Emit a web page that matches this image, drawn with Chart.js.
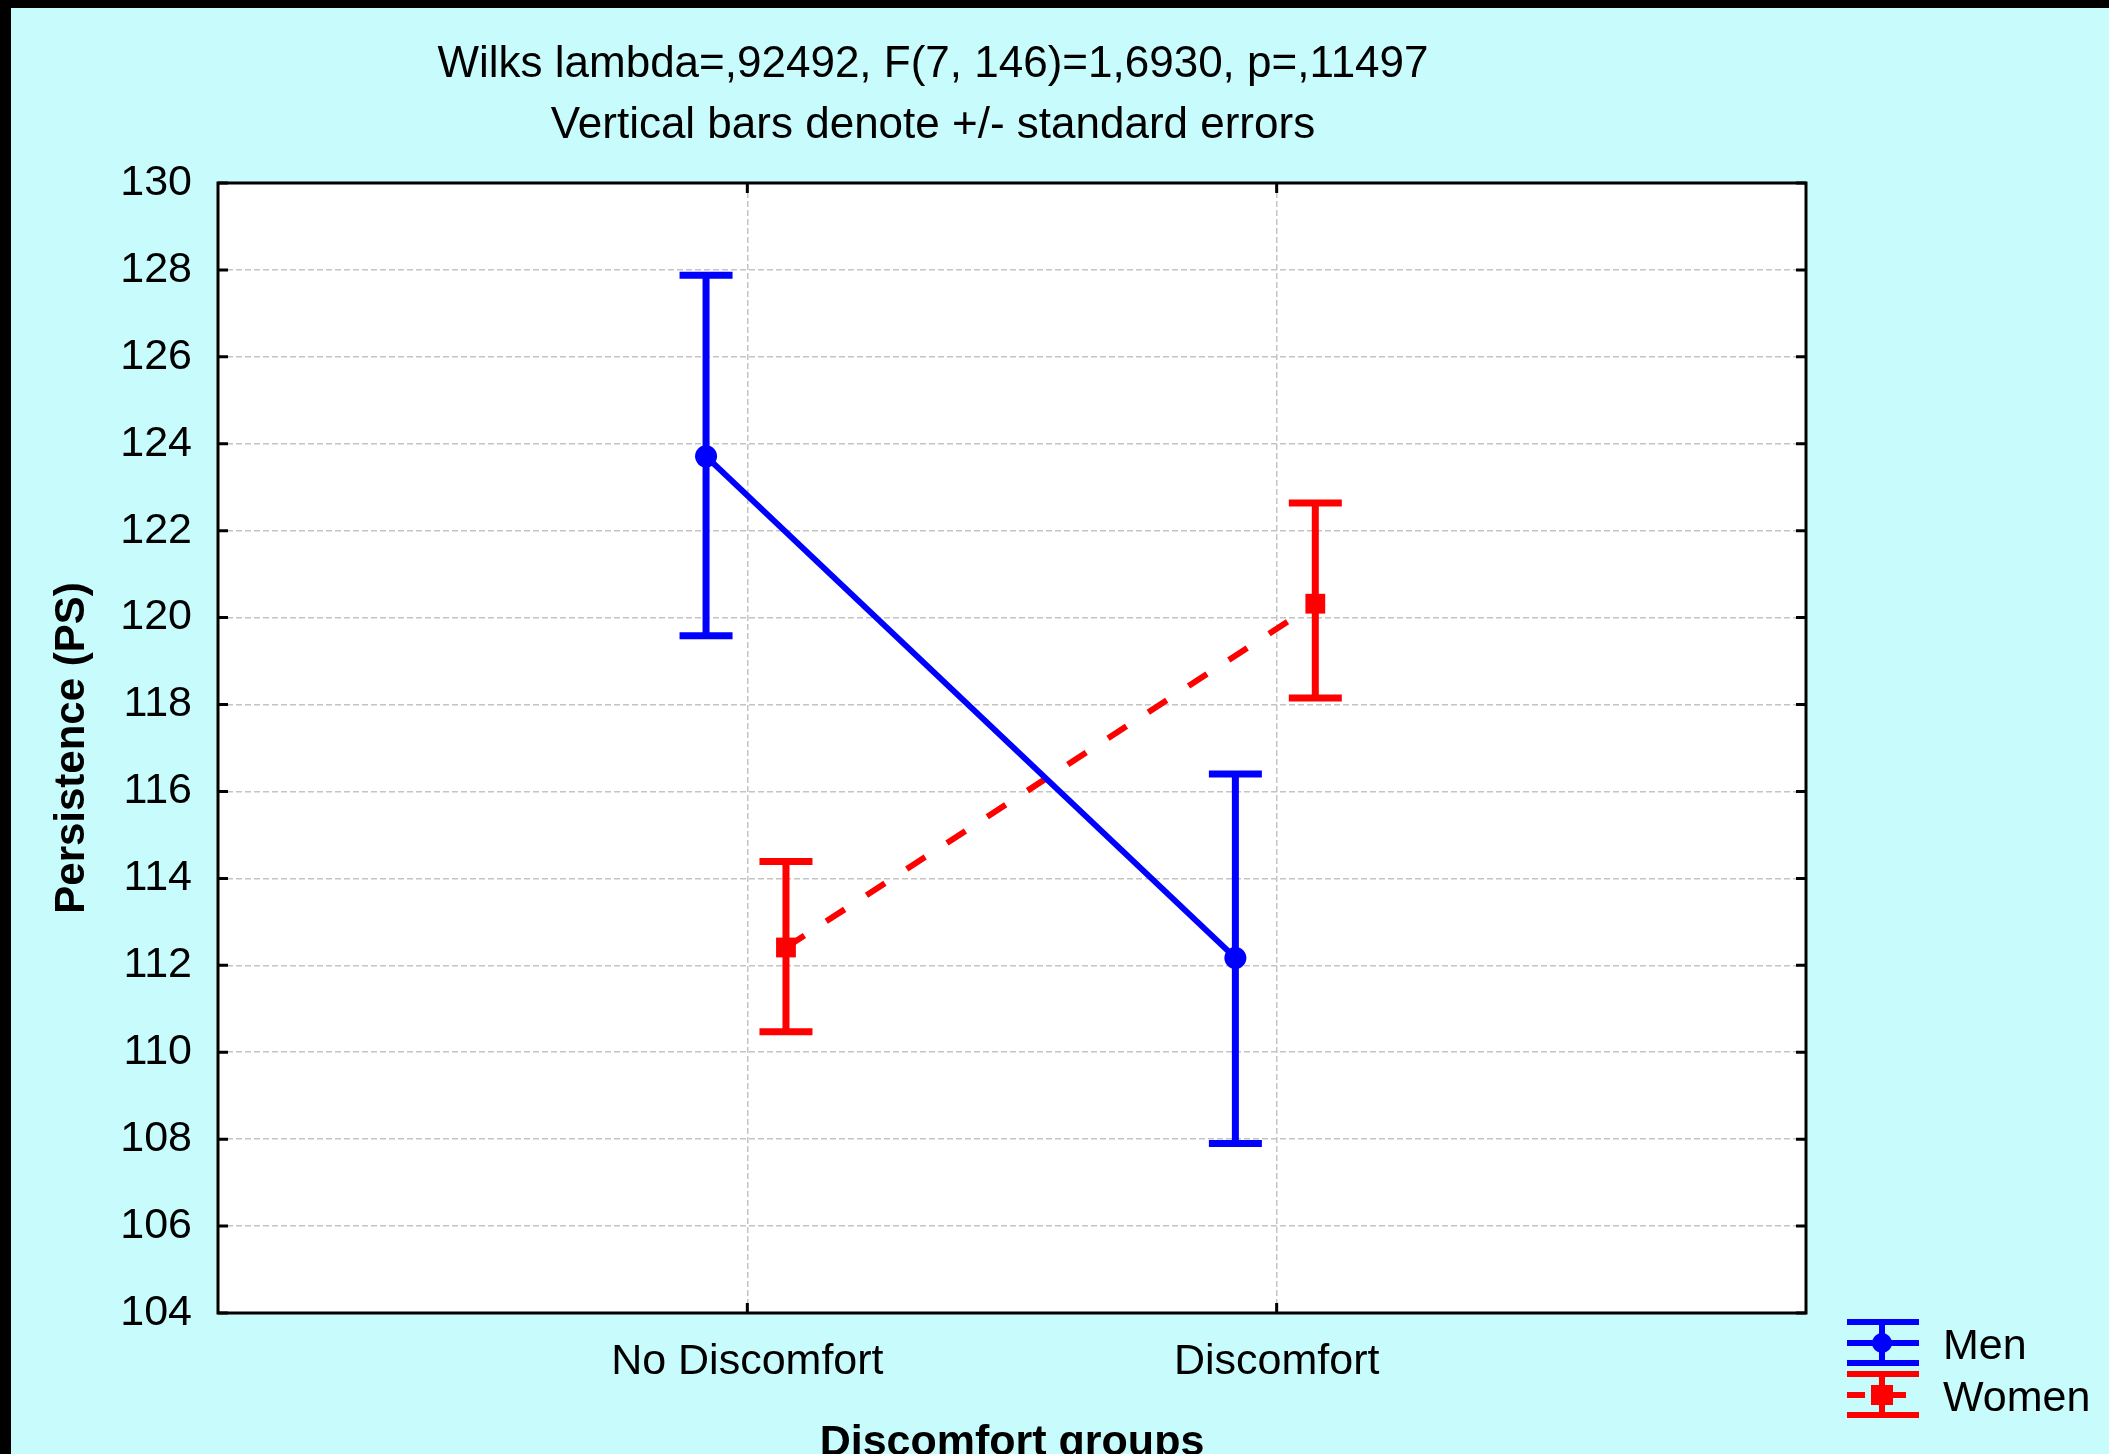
<!DOCTYPE html>
<html>
<head>
<meta charset="utf-8">
<script src="https://cdn.jsdelivr.net/npm/chart.js@4.4.0/dist/chart.umd.min.js"></script>
<style>
html,body{margin:0;padding:0;background:#000;width:2109px;height:1454px;overflow:hidden;}
#wrap{position:absolute;left:11px;top:8px;width:2098px;height:1446px;background:#C8FCFC;}
canvas{display:block;}
</style>
</head>
<body>
<div id="wrap"><canvas id="c" width="2098" height="1446"></canvas></div>
<script>
// ---- data ----
const titleLines = ['Wilks lambda=,92492, F(7, 146)=1,6930, p=,11497', 'Vertical bars denote +/- standard errors'];
const categories = ['No Discomfort', 'Discomfort'];
const seriesNames = ['Men', 'Women'];
const menMean  = [123.71, 112.17];
const menLower = [119.58, 107.90];
const menUpper = [127.88, 116.40];
const womenMean  = [112.41, 120.32];
const womenLower = [110.47, 118.15];
const womenUpper = [114.39, 122.64];
const yMin = 104, yMax = 130, yStep = 2;
const xAxisTitle = 'Discomfort groups';
const yAxisTitle = 'Persistence (PS)';

// ---- style ----
const FONT = '"Liberation Sans", Arial, Helvetica, sans-serif';
const BLUE = '#0000FF', RED = '#FF0000';
const GRID = '#C4C4C4';
const MEN_OFF = -0.078, WOMEN_OFF = 0.073;

Chart.defaults.font.family = FONT;
Chart.defaults.color = '#000';

function toPoints(means, off) { return means.map((v, i) => ({ x: i + 1 + off, y: v })); }

const plotBg = {
  id: 'plotBg',
  beforeDraw(chart) {
    const { ctx, chartArea: a } = chart;
    ctx.save();
    ctx.fillStyle = '#FFFFFF';
    ctx.fillRect(a.left, a.top, a.right - a.left, a.bottom - a.top);
    ctx.restore();
  }
};

const errorBars = {
  id: 'errorBars',
  beforeDatasetsDraw(chart) {
    const { ctx } = chart;
    const xs = chart.scales.x, ys = chart.scales.y;
    chart.data.datasets.forEach((ds) => {
      ds.data.forEach((p, i) => {
        const x = xs.getPixelForValue(p.x);
        const yl = ys.getPixelForValue(ds.errLow[i]);
        const yh = ys.getPixelForValue(ds.errHigh[i]);
        ctx.save();
        ctx.strokeStyle = ds.borderColor;
        ctx.lineWidth = 7;
        ctx.setLineDash([]);
        ctx.lineCap = 'butt';
        ctx.beginPath();
        ctx.moveTo(x, yl); ctx.lineTo(x, yh);
        ctx.moveTo(x - 26.5, yl); ctx.lineTo(x + 26.5, yl);
        ctx.moveTo(x - 26.5, yh); ctx.lineTo(x + 26.5, yh);
        ctx.stroke();
        ctx.restore();
      });
    });
  }
};

const frameAndExtras = {
  id: 'frameAndExtras',
  afterDraw(chart) {
    const { ctx, chartArea: a } = chart;
    const xs = chart.scales.x, ys = chart.scales.y;
    ctx.save();
    ctx.setLineDash([]);
    ctx.strokeStyle = '#000';
    ctx.lineWidth = 3;
    ctx.strokeRect(a.left, a.top, a.right - a.left, a.bottom - a.top);
    // inward tick marks
    ctx.lineWidth = 3;
    ctx.beginPath();
    ys.ticks.forEach(t => {
      const y = ys.getPixelForValue(t.value);
      ctx.moveTo(a.left, y); ctx.lineTo(a.left + 10, y);
      ctx.moveTo(a.right, y); ctx.lineTo(a.right - 10, y);
    });
    categories.forEach((c, i) => {
      const x = xs.getPixelForValue(i + 1);
      ctx.moveTo(x, a.bottom); ctx.lineTo(x, a.bottom - 10);
      ctx.moveTo(x, a.top); ctx.lineTo(x, a.top + 10);
    });
    ctx.stroke();

    // title
    ctx.fillStyle = '#000';
    ctx.font = '44px ' + FONT;
    ctx.textAlign = 'center';
    ctx.textBaseline = 'middle';
    ctx.fillText(titleLines[0], 922, 57);
    ctx.fillText(titleLines[1], 922, 118);

    // legend
    const lx0 = 1836, lx1 = 1908, sx = 1871;
    // Men
    ctx.strokeStyle = BLUE; ctx.fillStyle = BLUE; ctx.lineWidth = 6; ctx.lineCap = 'butt';
    ctx.beginPath();
    [1314, 1335, 1355].forEach(y => { ctx.moveTo(lx0, y); ctx.lineTo(lx1, y); });
    ctx.moveTo(sx, 1314); ctx.lineTo(sx, 1355);
    ctx.stroke();
    ctx.beginPath(); ctx.arc(sx, 1335, 10, 0, Math.PI * 2); ctx.fill();
    // Women
    ctx.strokeStyle = RED; ctx.fillStyle = RED;
    ctx.beginPath();
    [1366, 1407].forEach(y => { ctx.moveTo(lx0, y); ctx.lineTo(lx1, y); });
    ctx.moveTo(lx0, 1387); ctx.lineTo(lx0 + 18, 1387);
    ctx.moveTo(sx + 11, 1387); ctx.lineTo(sx + 24, 1387);
    ctx.moveTo(sx, 1366); ctx.lineTo(sx, 1407);
    ctx.stroke();
    ctx.fillRect(sx - 11, 1387 - 10, 22, 20);
    // legend text
    ctx.fillStyle = '#000';
    ctx.font = '43px ' + FONT;
    ctx.textAlign = 'left';
    ctx.fillText(seriesNames[0], 1932, 1339);
    ctx.fillText(seriesNames[1], 1932, 1391);
    ctx.restore();
  }
};

new Chart(document.getElementById('c'), {
  type: 'line',
  data: {
    datasets: [
      {
        label: seriesNames[0],
        data: toPoints(menMean, MEN_OFF),
        errLow: menLower, errHigh: menUpper,
        borderColor: BLUE, backgroundColor: BLUE,
        borderWidth: 6,
        pointStyle: 'circle', pointRadius: 11, pointBorderWidth: 0,
        pointBackgroundColor: BLUE,
        tension: 0
      },
      {
        label: seriesNames[1],
        data: toPoints(womenMean, WOMEN_OFF),
        errLow: womenLower, errHigh: womenUpper,
        borderColor: RED, backgroundColor: RED,
        borderWidth: 6, borderDash: [22, 26],
        pointStyle: 'rect', pointRadius: 14, pointBorderWidth: 0,
        pointBackgroundColor: RED,
        tension: 0
      }
    ]
  },
  options: {
    responsive: false,
    animation: false,
    events: [],
    layout: { padding: { left: 0, right: 303, top: 175, bottom: 0 } },
    plugins: { legend: { display: false }, title: { display: false }, tooltip: { enabled: false } },
    scales: {
      x: {
        type: 'linear', min: 0, max: 3,
        ticks: {
          stepSize: 1, autoSkip: false, maxRotation: 0,
          padding: 23,
          font: { size: 43 }, color: '#000',
          callback: (v) => categories[v - 1] !== undefined ? categories[v - 1] : ''
        },
        grid: {
          drawTicks: false, lineWidth: 1.5,
          color: (c) => (c.tick && (c.tick.value === 0 || c.tick.value === 3)) ? 'rgba(0,0,0,0)' : GRID
        },
        border: { display: false, dash: [6, 3] },
        title: {
          display: true, text: xAxisTitle, color: '#000',
          font: { size: 43, weight: 'bold', lineHeight: 0.5 },
          padding: { top: 0, bottom: 0 }
        },
        afterFit(s) { s.height = 141; }
      },
      y: {
        type: 'linear', min: yMin, max: yMax,
        ticks: { stepSize: yStep, padding: 26, font: { size: 43 }, color: '#000' },
        grid: { drawTicks: false, lineWidth: 1.5, color: GRID },
        border: { display: false, dash: [6, 3] },
        title: {
          display: true, text: yAxisTitle, color: '#000',
          font: { size: 42, weight: 'bold' },
          padding: { top: 36, bottom: 0 }
        },
        afterFit(s) { s.width = 207; }
      }
    }
  },
  plugins: [plotBg, errorBars, frameAndExtras]
});
</script>
</body>
</html>
